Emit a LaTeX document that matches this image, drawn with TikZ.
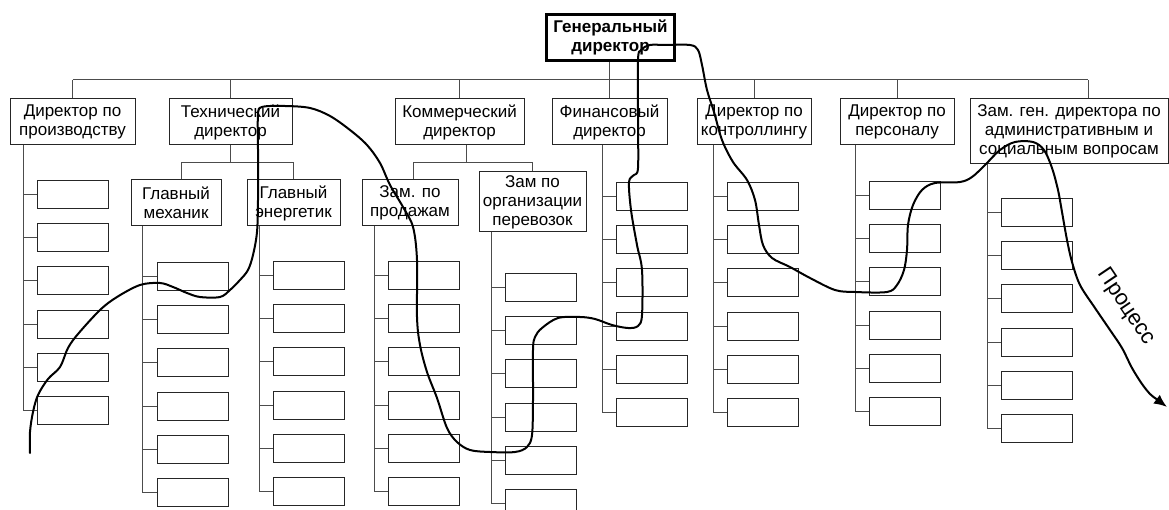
\documentclass[tikz,border=0pt]{standalone}
\usepackage{fontspec}
\setmainfont{Liberation Sans}
\usetikzlibrary{arrows.meta}
\newcommand\subcolumn[4]{%
  \coordinate (#1x) at (#2,0);
  \foreach \k in {1,...,6}{%
    \node[sub] (#1s\k) at (#3,{#4+(\k-1)*43.2}) {};
    \draw[conn] (#1s\k.west) -- (#1s\k.west -| #1x);
  }
  \draw[conn] (#1.south -| #1x) -- (#1s6.west -| #1x);
}
\begin{document}
\begin{tikzpicture}[x=1pt,y=-1pt,
  box/.style={draw=black!85, line width=1pt, inner sep=0pt, align=center,
    font=\fontsize{17}{19}\selectfont},
  sub/.style={draw=black!85, line width=1pt, minimum width=71pt,
    minimum height=28pt, inner sep=0pt, anchor=north west},
  conn/.style={draw=black!70, line width=1pt},
  curve/.style={draw=black, line width=2pt, line join=round, line cap=round},
]
\useasboundingbox (0,0) rectangle (1169,510);
\clip (0,0) rectangle (1169,510);
\fill[white] (0,0) rectangle (1169,510);

% top
\node[box, line width=3pt, draw=black, minimum width=128pt, minimum height=46pt,
  font=\fontsize{17}{19}\selectfont\bfseries] (gd) at (610.5,37.5) {Генеральный\\директор};

% level 1
\node[box, minimum width=125pt, minimum height=46pt] (dp) at (72.5,122) {Директор по\\производству};
\node[box, minimum width=123pt, minimum height=46pt] (td) at (230.5,122) {Технический\\директор};
\node[box, minimum width=129pt, minimum height=46pt] (kd) at (459.5,122) {Коммерческий\\директор};
\node[box, minimum width=115pt, minimum height=46pt] (fd) at (609.5,122) {Финансовый\\директор};
\node[box, minimum width=114pt, minimum height=46pt] (dk) at (754,122) {Директор по\\контроллингу};
\node[box, minimum width=114pt, minimum height=46pt] (dpers) at (897,122) {Директор по\\персоналу};
\node[box, minimum width=198pt, minimum height=65pt] (zg) at (1069,131.5) {Зам. ген. директора по\\административным и\\социальным вопросам};

% level 2
\node[box, minimum width=90pt, minimum height=46pt] (gm) at (176,203) {Главный\\механик};
\node[box, minimum width=93pt, minimum height=46pt] (ge) at (293.5,203) {Главный\\энергетик};
\node[box, minimum width=96pt, minimum height=46pt] (zp) at (410,203) {Зам. по\\продажам};
\node[box, minimum width=107pt, minimum height=60pt] (zo) at (532.5,202) {Зам по\\организации\\перевозок};

% connectors level 1
\coordinate (bus) at (0,80);
\coordinate (tbus) at (0,163);
\coordinate (zgtop) at ([xshift=19pt]zg.north);
\draw[conn] (dp.north |- bus) -- (zgtop |- bus);
\draw[conn] (fd.north) -- (fd.north |- gd.south);
\foreach \n in {dp,td,kd,dk,dpers} \draw[conn] (\n.north) -- (\n.north |- bus);
\draw[conn] (zgtop) -- (zgtop |- bus);

% connectors level 2
\coordinate (gmtop) at ([xshift=5pt]gm.north);
\draw[conn] (td.south) -- (td.south |- tbus);
\draw[conn] (gmtop) -- (gmtop |- tbus) -- (ge.north |- tbus) -- (ge.north);
\coordinate (kdbot) at ([xshift=7pt]kd.south);
\coordinate (zptop) at ([xshift=3pt]zp.north);
\draw[conn] (kdbot) -- (kdbot |- tbus);
\draw[conn] (zptop) -- (zptop |- tbus) -- (zo.north |- tbus) -- (zo.north);

% columns of empty boxes
\subcolumn{dp}{23}{37}{180}
\subcolumn{gm}{142}{157}{262}
\subcolumn{ge}{259}{273}{261}
\subcolumn{zp}{374}{388}{261}
\subcolumn{zo}{491}{505}{273}
\subcolumn{fd}{602}{616}{182}
\subcolumn{dk}{713}{727}{182}
\subcolumn{dpers}{855}{869}{181}
\subcolumn{zg}{987}{1001}{198}

% process curve
\coordinate (pstart) at (30,453);
\coordinate (pend) at (1167,407);
\draw[curve] plot[smooth, tension=0.55] coordinates {
(pstart) (30,432) (33,412) (38,395) (48,379) (60,367) (68,348) (78,334) (100,310)
(117,297) (140,285) (160,283) (173,287) (187,293) (200,297) (220,297) (230,290)
(240,280) (248,270) (253,255) (257,232) (258,200) (258,150) (258,115) (262,107)
(285,106) (310,108) (330,116) (350,130) (367,145) (380,163) (390,185) (403,207)
(413,227) (417,260) (417,317) (420,345) (427,372) (437,398) (447,428) (457,442)
(470,450) (490,452) (515,452) (527,447) (532,435) (533,400) (533,350) (535,337)
(542,328) (558,318) (580,317) (595,319) (612,325) (628,328) (638,326) (642,315)
(642,270) (637,245) (631,210) (629,182) (634,175) (638,168) (638,120) (638,60)
(641,50) (650,45) (665,45) (690,45) (698,50) (702,65) (707,90) (714,112)
(722,140) (733,162) (747,180) (755,200) (759,225) (763,245) (772,258) (790,267)
(810,278) (835,290) (855,292) (887,292) (897,285) (904,270) (907,250) (908,225)
(913,205) (922,190) (935,183) (960,182) (972,177) (985,165) (1000,150) (1015,142)
(1033,142) (1044,150) (1052,168) (1058,190) (1062,212) (1067,240) (1072,262)
(1080,285) (1095,308) (1110,330) (1122,348) (1132,368) (1142,384) (1150,394)
(1155,398)};
\draw[curve, -{Latex[length=13pt,width=11pt]}] (1155,398) -- (pend);
\node[font=\fontsize{22}{24}\selectfont, rotate=-56,
  inner sep=0pt] (proc) at (1126,307) {Процесс};
\end{tikzpicture}
\end{document}
